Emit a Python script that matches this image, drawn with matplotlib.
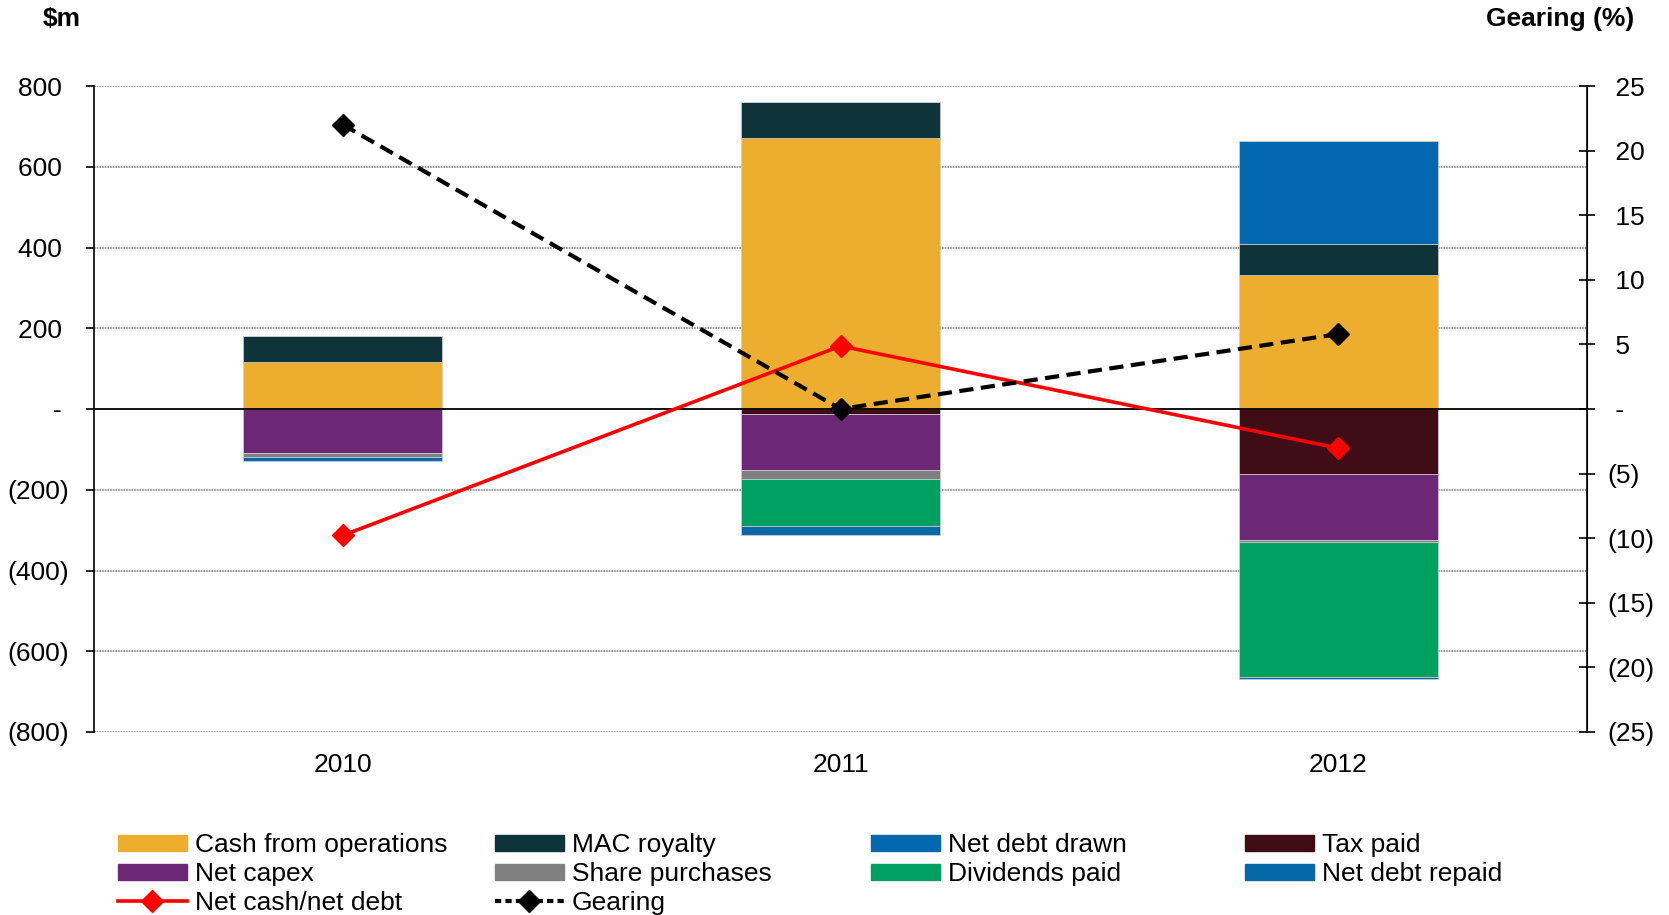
import matplotlib
matplotlib.use("Agg")
import matplotlib.pyplot as plt
from matplotlib.patches import Patch
from matplotlib.lines import Line2D
from matplotlib.ticker import FuncFormatter

plt.rcParams['font.family'] = ['Liberation Sans', 'DejaVu Sans']

# Datos
years = ["2010", "2011", "2012"]
cash_ops = [116, 670, 333]
mac_royalty = [65, 90, 76]
net_debt_drawn = [0, 0, 256]
tax_paid = [0, -12, -160]
net_capex = [-109, -139, -165]
share_purchases = [-11, -22, -5]
dividends_paid = [0, -118, -335]
net_debt_repaid = [-10, -20, -4]
net_cash = [-313, 156, -97]
gearing = [22, 0, 5.8]

positivos = [
    ("Cash from operations", cash_ops, "#EDAE30"),
    ("MAC royalty", mac_royalty, "#0E3339"),
    ("Net debt drawn", net_debt_drawn, "#0468B1"),
]
negativos = [
    ("Tax paid", tax_paid, "#400C15"),
    ("Net capex", net_capex, "#6C2775"),
    ("Share purchases", share_purchases, "#808080"),
    ("Dividends paid", dividends_paid, "#00A061"),
    ("Net debt repaid", net_debt_repaid, "#0469A6"),
]


def texto_num(v):
    if abs(v) < 1e-9:
        return "-"
    if v < 0:
        return f"({abs(v):.0f})"
    return f"{v:.0f}"


# eje izquierdo: los positivos llevan un espacio al final (como el ")" de los negativos)
def fmt_izq(v, pos=None):
    t = texto_num(v)
    return t if t.startswith("(") else t + " "


# eje derecho: los positivos llevan un espacio al inicio
def fmt_der(v, pos=None):
    t = texto_num(v)
    return t if t.startswith("(") else " " + t


fig = plt.figure(figsize=(16.69, 9.15), dpi=100)
ax = fig.add_axes([94 / 1669, 1 - 732 / 915, (1587 - 94) / 1669, (732 - 86) / 915])
ax2 = ax.twinx()

x = list(range(len(years)))
ancho = 0.40

# Barras apiladas
base = [0.0] * len(years)
for nombre, vals, color in positivos:
    ax.bar(x, vals, ancho, bottom=base, color=color, edgecolor="#d0d0d0",
           linewidth=0.5, zorder=2)
    base = [b + v for b, v in zip(base, vals)]
base = [0.0] * len(years)
for nombre, vals, color in negativos:
    ax.bar(x, vals, ancho, bottom=base, color=color, edgecolor="#d0d0d0",
           linewidth=0.5, zorder=2)
    base = [b + v for b, v in zip(base, vals)]

# Lineas
ax.plot(x, net_cash, color="#FF0000", lw=2.6, marker="D", markersize=11,
        zorder=5)
ax2.plot(x, gearing, color="black", lw=3, ls=(0, (3.4, 1.8)), marker="D",
         markersize=11, zorder=5)

ax.set_xlim(-0.5, 2.5)
ax.set_ylim(-800, 800)
ax2.set_ylim(-25, 25)
ax.set_yticks(range(-800, 801, 200))
ax2.set_yticks(range(-25, 26, 5))
ax.yaxis.set_major_formatter(FuncFormatter(fmt_izq))
ax2.yaxis.set_major_formatter(FuncFormatter(fmt_der))

# Cuadricula
for v in range(-800, 801, 200):
    if v == 0:
        ax.axhline(0, color="black", lw=1.3, zorder=3)
    else:
        ax.axhline(v, color="#888888", lw=1.2, ls=(0, (1, 0.6)), zorder=1)

for s in ["top", "bottom"]:
    ax.spines[s].set_visible(False)
    ax2.spines[s].set_visible(False)
ax2.spines["left"].set_visible(False)
ax.spines["left"].set_linewidth(1.2)
ax2.spines["right"].set_linewidth(1.2)

ax.set_xticks(x)
ax.set_xticklabels(years)
ax.tick_params(axis="x", length=0, pad=15, labelsize=19)
ax.tick_params(axis="y", direction="out", length=6, width=1.2, pad=12, labelsize=19)
ax2.tick_params(axis="y", direction="inout", length=12, width=1.2, pad=9, labelsize=19)

fig.text(62 / 1669, 1 - 19 / 915, "$m", fontsize=19, fontweight="bold",
         ha="center", va="center")
fig.text(1560 / 1669, 1 - 19 / 915, "Gearing (%)", fontsize=19,
         fontweight="bold", ha="center", va="center")

# Leyenda en 4 columnas
todos = positivos + negativos
filas = [
    [Patch(color=todos[0][2], label=todos[0][0]), Patch(color=todos[4][2], label=todos[4][0]),
     Line2D([], [], color="#FF0000", lw=2.6, marker="D", markersize=11, label="Net cash/net debt")],
    [Patch(color=todos[1][2], label=todos[1][0]), Patch(color=todos[5][2], label=todos[5][0]),
     Line2D([], [], color="black", lw=3, ls=(0, (1.5, 1)), marker="D", markersize=11, label="Gearing")],
    [Patch(color=todos[2][2], label=todos[2][0]), Patch(color=todos[6][2], label=todos[6][0])],
    [Patch(color=todos[3][2], label=todos[3][0]), Patch(color=todos[7][2], label=todos[7][0])],
]
xs = [118, 495, 871, 1245]
for xc, hs in zip(xs, filas):
    fig.legend(handles=hs, loc="upper left", bbox_to_anchor=(xc / 1669, 1 - 833 / 915),
               frameon=False, fontsize=19, handlelength=2.6, handleheight=0.55,
               handletextpad=0.3, labelspacing=0.19, borderpad=0, borderaxespad=0)

fig.savefig("out.png", dpi=100)
